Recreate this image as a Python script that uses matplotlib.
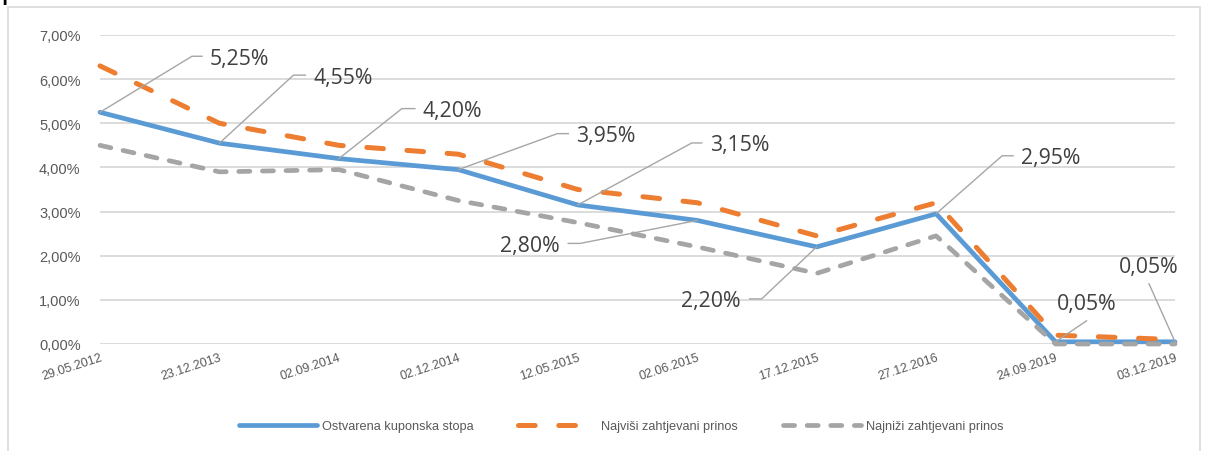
import matplotlib.pyplot as plt
from matplotlib.patches import Rectangle
from matplotlib.lines import Line2D
from matplotlib.ticker import FuncFormatter

dates = ["29.05.2012", "23.12.2013", "02.09.2014", "02.12.2014", "12.05.2015",
         "02.06.2015", "17.12.2015", "27.12.2016", "24.09.2019", "03.12.2019"]
ostvarena = [5.25, 4.55, 4.20, 3.95, 3.15, 2.80, 2.20, 2.95, 0.05, 0.05]
najvisi = [6.30, 5.00, 4.50, 4.30, 3.50, 3.20, 2.45, 3.20, 0.20, 0.10]
najnizi = [4.50, 3.90, 3.95, 3.25, 2.75, 2.20, 1.60, 2.45, 0.00, 0.00]
series_names = ["Ostvarena kuponska stopa", "Najviši zahtjevani prinos", "Najniži zahtjevani prinos"]

plt.rcParams['lines.scale_dashes'] = False
plt.rcParams['font.family'] = ['Liberation Sans', 'DejaVu Sans']

W, H = 1205, 452
fig = plt.figure(figsize=(W / 100, H / 100), dpi=100)
ax = fig.add_axes([100 / W, 1 - 345 / H, (1175 - 100) / W, (345 - 36) / H])

x = list(range(len(dates)))
ax.plot(x, ostvarena, color='#5b9bd5', lw=3.4, solid_capstyle='round',
        label=series_names[0], zorder=3, clip_on=False)
ax.plot(x, najvisi, color='#ed7d31', lw=3.6, dashes=(12, 17), dash_capstyle='round',
        label=series_names[1], zorder=4, clip_on=False)
ax.plot(x, najnizi, color='#a5a5a5', lw=3.4, dashes=(8, 9), dash_capstyle='round',
        label=series_names[2], zorder=5, clip_on=False)

ax.set_xlim(0, len(dates) - 1)
ax.set_ylim(0, 7)
ax.set_yticks(range(0, 8))
ax.yaxis.set_major_formatter(FuncFormatter(lambda v, p: f"{v:.2f}".replace('.', ',') + "%"))
ax.set_xticks(x)
ax.set_xticklabels(dates, rotation=18, ha='right', rotation_mode='anchor')
ax.tick_params(axis='x', length=0, pad=5, labelsize=9, labelcolor='#595959')
ax.tick_params(axis='y', length=0, pad=14, labelsize=10.5, labelcolor='#595959')
ax.grid(axis='y', color='#d9d9d9', lw=1.3)
ax.set_axisbelow(True)
for s in ax.spines.values():
    s.set_visible(False)

# data labels with leader lines (offsets in image pixels: elbow, tail, side)
labels = [
    (0, (92, -56), 10, 'left'),
    (1, (74, -68), 12, 'left'),
    (2, (63, -50), 13, 'left'),
    (3, (99, -36), 11, 'left'),
    (4, (114, -62), 10, 'left'),
    (5, (-117, 23), -12, 'right'),
    (6, (-55, 52), -12, 'right'),
    (7, (66, -58), 11, 'left'),
]
fig.canvas.draw()
lab_font = ['Open Sans', 'DejaVu Sans']
for i, (dx, dy), tail, side in labels:
    px, py = ax.transData.transform((x[i], ostvarena[i]))
    ex, ey = px + dx, py - dy
    fig.add_artist(Line2D([px, ex, ex + tail], [py, ey, ey], color='#a6a6a6', lw=1,
                          transform=None, zorder=6))
    tx = ex + tail + (8 if side == 'left' else -9)
    txt = f"{ostvarena[i]:.2f}".replace('.', ',') + "%"
    fig.text(tx / W, (ey - 2) / H, txt, ha=side, va='center', fontsize=15.3,
             color='#404040', family=lab_font)

# last two labels sit above the points
for i, (dx, dy), (tdx, tdy) in [(8, (31, -21), (31, -38)), (9, (-26, -58), (-26, -75))]:
    px, py = ax.transData.transform((x[i], ostvarena[i]))
    fig.add_artist(Line2D([px, px + dx], [py, py - dy], color='#a6a6a6', lw=1,
                          transform=None, zorder=6))
    txt = f"{ostvarena[i]:.2f}".replace('.', ',') + "%"
    fig.text((px + tdx) / W, (py - tdy) / H, txt, ha='center', va='center', fontsize=15.3,
             color='#404040', family=lab_font)

fig.legend(loc='center', bbox_to_anchor=(621 / W, 1 - 427 / H), ncol=3, frameon=False,
           fontsize=9.2, handlelength=6.1, columnspacing=3.5, handletextpad=0.4,
           labelcolor='#595959')

# chart border and clipped title fragment (only its descender shows, as in the source)
fig.add_artist(Rectangle((8 / W, -0.1), (1200 - 8) / W, 1.1 - 8 / H, transform=fig.transFigure,
                         fill=False, edgecolor='#d9d9d9', lw=1.2))
fig.text(0 / W, 1 + 1 / H, "p", fontsize=22, va='baseline', ha='left', color='black',
         family='DejaVu Sans')

fig.savefig('out.png', dpi=100)
